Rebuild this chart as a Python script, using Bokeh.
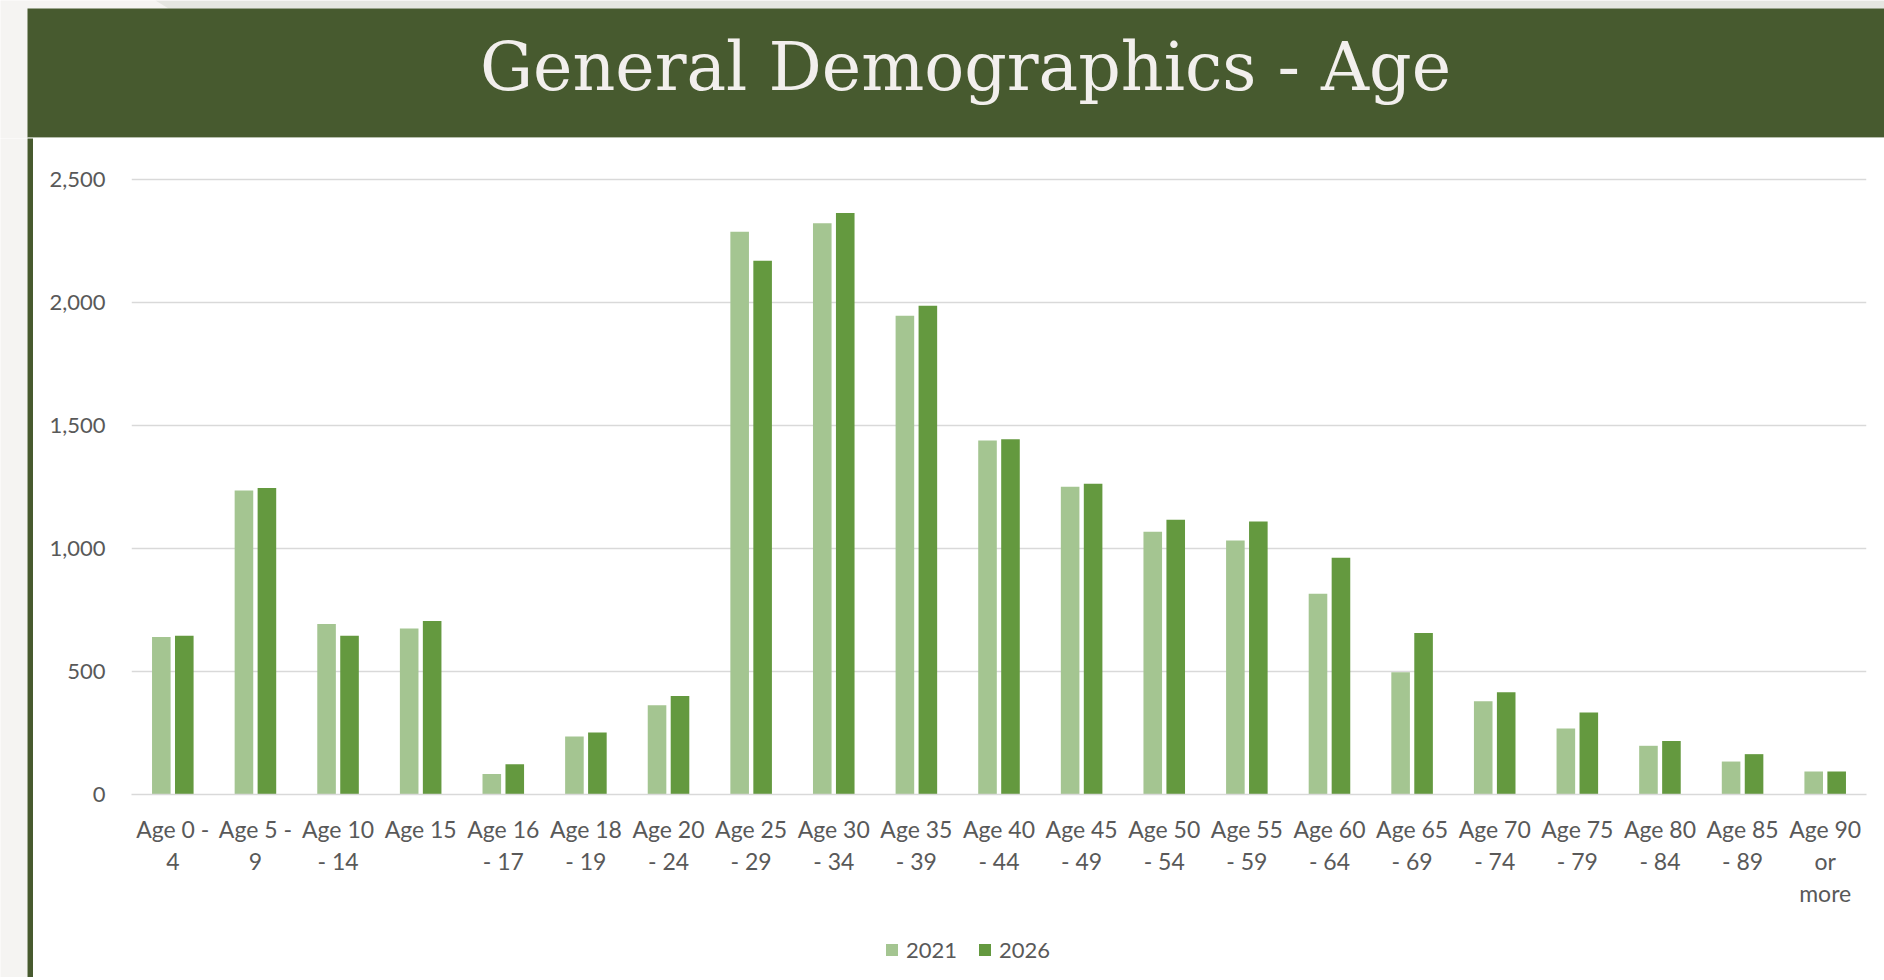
from bokeh.plotting import figure
from bokeh.layouts import column, row
from bokeh.models import (ColumnDataSource, FactorRange, Range1d, FixedTicker,
                          NumeralTickFormatter, Legend, LegendItem)
from bokeh.transform import dodge
from bokeh.core.properties import value
from bokeh.embed import file_html
from bokeh.resources import INLINE

# ---- data -------------------------------------------------------------
age_groups = [
    "Age 0 -\n4", "Age 5 -\n9", "Age 10\n- 14", "Age 15", "Age 16\n- 17",
    "Age 18\n- 19", "Age 20\n- 24", "Age 25\n- 29", "Age 30\n- 34",
    "Age 35\n- 39", "Age 40\n- 44", "Age 45\n- 49", "Age 50\n- 54",
    "Age 55\n- 59", "Age 60\n- 64", "Age 65\n- 69", "Age 70\n- 74",
    "Age 75\n- 79", "Age 80\n- 84", "Age 85\n- 89", "Age 90\nor\nmore",
]
pop_2021 = [640, 1236, 693, 675, 83, 236, 363, 2288, 2322, 1946, 1439,
            1251, 1068, 1033, 816, 497, 379, 268, 198, 134, 93]
pop_2026 = [645, 1246, 645, 705, 123, 252, 400, 2170, 2364, 1987, 1444,
            1263, 1117, 1110, 962, 657, 416, 333, 217, 164, 93]
series_names = ["2021", "2026"]
y_ticks = [0, 500, 1000, 1500, 2000, 2500]
title_text = "General Demographics - Age"

# ---- styling ----------------------------------------------------------
W, H = 1884, 980
HEAD_H = 138
FOOT_H = 3
MID_H = H - HEAD_H - FOOT_H
EDGE = 27          # light page strip on the left
BORDER = 6         # green frame line width
CHART_H = 782
LEGEND_H = MID_H - CHART_H
PAGE = "#f5f4f2"
BAND = "#e5e6e1"
DARK_GREEN = "#475a2f"
LIGHT_BAR = "#a4c591"
DARK_BAR = "#64993f"
TEXT_GRAY = "#595959"
GRID_GRAY = "#d9d9d9"
SANS = "Lato"
FRAME_L, FRAME_R = 98, 18


def blank(width, height, color, xr=None, yr=None):
    f = figure(width=width, height=height,
               x_range=xr or Range1d(0, 1), y_range=yr or Range1d(0, 1),
               output_backend="svg", toolbar_location=None, min_border=0,
               background_fill_color=color, border_fill_color=color,
               outline_line_color=None)
    f.axis.visible = False
    f.grid.visible = False
    return f


# ---- header band with the slide title ---------------------------------
header = blank(W, HEAD_H, PAGE, Range1d(0, W), Range1d(HEAD_H, 0))
header.patch([155, W, W, 168], [0, 0, 8, 8], fill_color=BAND, line_color=None)
header.quad(left=EDGE, right=W, top=8, bottom=137, fill_color=DARK_GREEN,
            line_color=None)
header.quad(left=EDGE, right=W, top=137, bottom=HEAD_H, fill_color="#cfd5c7",
            line_color=None)
header.text(x=[965], y=[66], text=[title_text],
            text_font=value("DejaVu Serif"), text_font_size="66.5px",
            text_color="#f2efed", text_align="center",
            text_baseline="alphabetic")

# ---- left page strip and green frame line -----------------------------
left_page = blank(EDGE, MID_H, PAGE)
left_line = blank(BORDER, MID_H, DARK_GREEN)

# ---- bar chart --------------------------------------------------------
src = ColumnDataSource(dict(age=age_groups, y2021=pop_2021, y2026=pop_2026))

chart_w = W - EDGE - BORDER
chart = figure(width=chart_w, height=CHART_H,
               x_range=FactorRange(*age_groups), y_range=Range1d(0, 2540.7),
               output_backend="svg", toolbar_location=None,
               min_border_left=FRAME_L, min_border_right=FRAME_R,
               min_border_top=31, min_border_bottom=CHART_H - 656,
               background_fill_color="white", border_fill_color="white",
               outline_line_color=None)

chart.vbar(x=dodge("age", -0.139, range=chart.x_range), top="y2021",
           width=0.225, source=src, fill_color=LIGHT_BAR, line_color=None)
chart.vbar(x=dodge("age", 0.139, range=chart.x_range), top="y2026",
           width=0.225, source=src, fill_color=DARK_BAR, line_color=None)

chart.xgrid.grid_line_color = None
chart.ygrid.grid_line_color = GRID_GRAY
chart.ygrid.grid_line_width = 1.5

yax = chart.yaxis[0]
yax.ticker = FixedTicker(ticks=y_ticks)
yax.formatter = NumeralTickFormatter(format="0,0")
yax.axis_line_color = None
yax.major_tick_line_color = None
yax.minor_tick_line_color = None
yax.major_label_standoff = 20
yax.major_label_text_font = SANS
yax.major_label_text_font_size = "22px"
yax.major_label_text_color = TEXT_GRAY

xax = chart.xaxis[0]
xax.axis_line_color = GRID_GRAY
xax.axis_line_width = 1.5
xax.major_tick_line_color = None
xax.minor_tick_line_color = None
xax.major_label_standoff = 14
xax.major_label_text_font = SANS
xax.major_label_text_font_size = "23px"
xax.major_label_text_color = TEXT_GRAY
xax.major_label_text_line_height = 1.15

# ---- legend row below the chart ---------------------------------------
key = figure(width=chart_w, height=LEGEND_H,
             x_range=Range1d(0, 1), y_range=Range1d(0, 1),
             output_backend="svg", toolbar_location=None,
             min_border_left=FRAME_L, min_border_right=FRAME_R,
             min_border_top=0, min_border_bottom=0,
             background_fill_color="white", border_fill_color="white",
             outline_line_color=None)
key.axis.visible = False
key.grid.visible = False
# hidden swatch renderers that only give the legend its bar colours
k1 = key.vbar(x=[0.5], top=[1], width=0.2, fill_color=LIGHT_BAR,
              line_color=None, visible=False)
k2 = key.vbar(x=[0.5], top=[1], width=0.2, fill_color=DARK_BAR,
              line_color=None, visible=False)
legend = Legend(
    items=[LegendItem(label=series_names[0], renderers=[k1]),
           LegendItem(label=series_names[1], renderers=[k2])],
    orientation="horizontal", location=(753, 14),
    border_line_color=None, background_fill_alpha=0,
    inactive_fill_alpha=0,
    padding=0, margin=0, spacing=20, label_standoff=7,
    glyph_width=15, glyph_height=15,
    label_text_font=SANS, label_text_font_size="22px",
    label_text_color=TEXT_GRAY,
)
key.add_layout(legend, "center")

# ---- bottom frame line ------------------------------------------------
foot_page = blank(EDGE, FOOT_H, PAGE)
foot_line = blank(W - EDGE, FOOT_H, DARK_GREEN)

page = column(
    header,
    row(left_page, left_line, column(chart, key, spacing=0), spacing=0),
    row(foot_page, foot_line, spacing=0),
    spacing=0,
)

open("out.html", "w").write(file_html(page, INLINE, title=title_text))
